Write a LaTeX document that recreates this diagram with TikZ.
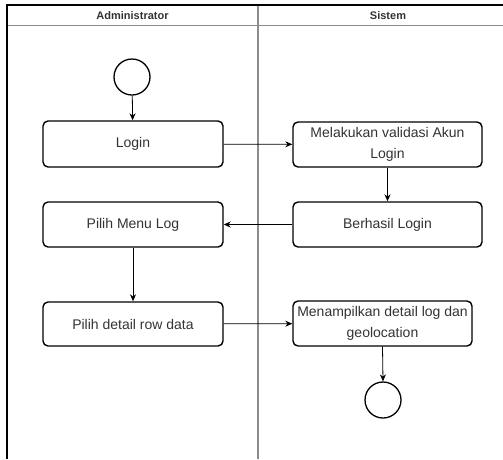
\documentclass[tikz,border=0pt]{standalone}
\usepackage{fontspec}
\setmainfont{Liberation Sans}
\usetikzlibrary{arrows.meta}
\definecolor{txt}{HTML}{333333}
\definecolor{lane}{HTML}{8C8C8C}
\tikzset{
  act/.style={draw=black, line width=1.4pt, rounded corners=5pt, fill=white,
    text=txt, inner sep=0pt, align=center,
    font=\fontsize{14}{21.5}\selectfont},
  terminal/.style={draw=black, line width=1.3pt, circle, minimum size=36pt, inner sep=0pt},
  flow/.style={draw=black, line width=0.8pt, -{Stealth[length=7pt,width=6pt]}},
  hdr/.style={text=txt, font=\fontsize{11}{13}\selectfont\bfseries, inner sep=0pt},
}
\begin{document}
\begin{tikzpicture}[x=1pt,y=-1pt]
\useasboundingbox (0,0) rectangle (503,459);
% swimlane frame
\draw[lane, line width=1.8pt] (7,25.5) -- (503,25.5);
\draw[lane, line width=1.8pt] (258,5) -- (258,459);
\draw[black, line width=1.2pt] (7,459) -- (7,5) -- (503,5);
\node[hdr] (hadmin) at (132.5,15.5) {Administrator};
\node[hdr] (hsis) at (388,15.5) {Sistem};
% nodes
\node[terminal] (start) at (132,77) {};
\node[act, minimum width=180pt, minimum height=46pt] (login) at (133,144) {Login};
\node[act, minimum width=189pt, minimum height=45pt] (valid) at (387.5,144.5) {Melakukan validasi Akun\\Login};
\node[act, minimum width=189pt, minimum height=45pt] (berhasil) at (387.5,224.5) {Berhasil Login};
\node[act, minimum width=180pt, minimum height=45pt] (menu) at (133,224.5) {Pilih Menu Log};
\node[act, minimum width=180pt, minimum height=44pt] (detail) at (133,324) {Pilih detail row data};
\node[act, minimum width=179pt, minimum height=45pt] (tampil) at (382.5,323.5) {Menampilkan detail log dan\\geolocation};
\node[terminal] (end) at (383,400) {};
% connectors
\draw[flow] (start) -- (login);
\draw[flow] (login) -- (valid);
\draw[flow] (valid.south) -- (berhasil.north);
\draw[flow] (berhasil) -- (menu);
\draw[flow] (menu) -- (detail);
\draw[flow] (detail) -- (tampil);
\draw[flow] (tampil.south) -- (end.north);
\end{tikzpicture}
\end{document}
